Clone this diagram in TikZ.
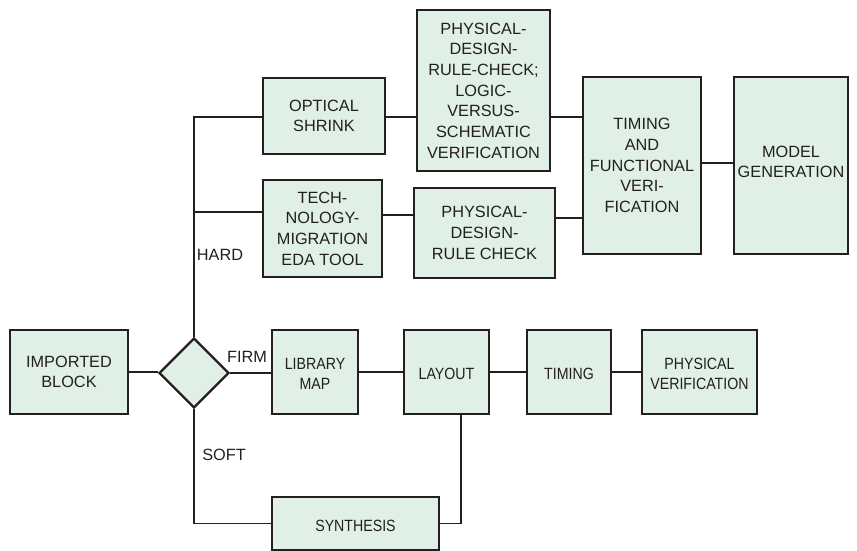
\documentclass[tikz,border=0pt]{standalone}
\usepackage{fontspec}
\usepackage{graphicx}
\setmainfont{Liberation Sans}
\usetikzlibrary{shapes.geometric}
\definecolor{boxfill}{RGB}{224,240,230}
\definecolor{ink}{RGB}{35,31,32}
\newcommand\cnd[1]{\raisebox{-3.5pt}[\height][\depth]{\scalebox{0.87}[1]{\begin{tabular}{@{}c@{}}#1\end{tabular}}}}
\begin{document}
\begin{tikzpicture}[x=1pt,y=-1pt,
  box/.style={draw=ink,fill=boxfill,line width=2.4pt,rectangle,inner sep=0pt,align=center,
    font=\fontsize{16.3}{20.7}\selectfont,text=ink},
  dec/.style={draw=ink,fill=boxfill,line width=2.4pt,diamond,aspect=1,inner sep=0pt,minimum size=70pt},
  conn/.style={draw=ink,line width=1.2pt},
  lbl/.style={font=\fontsize{16.3}{20.7}\selectfont,text=ink,inner sep=0pt}]
\useasboundingbox (0,0) rectangle (857,551);
% nodes
\node[box,minimum width=118pt,minimum height=84pt] (imp) at (69,372) {IMPORTED\\BLOCK};
\node[dec] (dia) at (194,373) {};
\node[box,minimum width=86pt,minimum height=84pt] (lib) at (315,372) {\cnd{LIBRARY\\MAP}};
\node[box,minimum width=85pt,minimum height=84pt] (lay) at (446.5,372) {\cnd{LAYOUT}};
\node[box,minimum width=84pt,minimum height=84pt] (tim) at (569,372) {\cnd{TIMING}};
\node[box,minimum width=115pt,minimum height=84pt] (pv) at (699.5,372) {\cnd{PHYSICAL\\VERIFICATION}};
\node[box,minimum width=167pt,minimum height=53pt] (syn) at (355.5,523.5) {\cnd{SYNTHESIS}};
\node[box,minimum width=122pt,minimum height=76pt] (opt) at (324,116) {OPTICAL\\SHRINK};
\node[box,minimum width=133pt,minimum height=161pt] (pd1) at (483.5,90.5) {PHYSICAL-\\DESIGN-\\RULE-CHECK;\\LOGIC-\\VERSUS-\\SCHEMATIC\\VERIFICATION};
\node[box,minimum width=119pt,minimum height=97pt] (tec) at (322.5,228.5) {TECH-\\NOLOGY-\\MIGRATION\\EDA TOOL};
\node[box,minimum width=141pt,minimum height=90pt] (pd2) at (484.5,233) {PHYSICAL-\\DESIGN-\\RULE CHECK};
\node[box,minimum width=118pt,minimum height=177pt] (tfv) at (642,165.5) {TIMING\\AND\\FUNCTIONAL\\VERI-\\FICATION};
\node[box,minimum width=114pt,minimum height=177pt] (mod) at (791,165.5) {\raisebox{2pt}[\height][\depth]{\begin{tabular}{@{}c@{}}MODEL\\GENERATION\end{tabular}}};
% labels
\node[lbl] (hard) at (220,255) {HARD};
\node[lbl] (firm) at (247,357) {FIRM};
\node[lbl] (soft) at (224,455) {SOFT};
% junctions
\coordinate (jt) at (194,212);
\coordinate (y117) at (0,117);
\coordinate (y215) at (0,215);
\coordinate (y218) at (0,218);
\coordinate (y163) at (0,163);
% connectors
\draw[conn] (imp.east) -- (imp.east -| dia.west);
\draw[conn] (dia.east) -- (dia.east -| lib.west);
\draw[conn] (lib.east) -- (lay.west);
\draw[conn] (lay.east) -- (tim.west);
\draw[conn] (tim.east) -- (pv.west);
\draw[conn] (dia.north) |- (y117 -| opt.west);
\draw[conn] (jt) -- (jt -| tec.west);
\draw[conn] (y117 -| opt.east) -- (y117 -| pd1.west);
\draw[conn] (y117 -| pd1.east) -- (y117 -| tfv.west);
\draw[conn] (y215 -| tec.east) -- (y215 -| pd2.west);
\draw[conn] (y218 -| pd2.east) -- (y218 -| tfv.west);
\draw[conn] (y163 -| tfv.east) -- (y163 -| mod.west);
\draw[conn] (dia.south) |- (syn.west);
\draw[conn] (syn.east) -| ([xshift=14.5pt]lay.south);
\end{tikzpicture}
\end{document}
